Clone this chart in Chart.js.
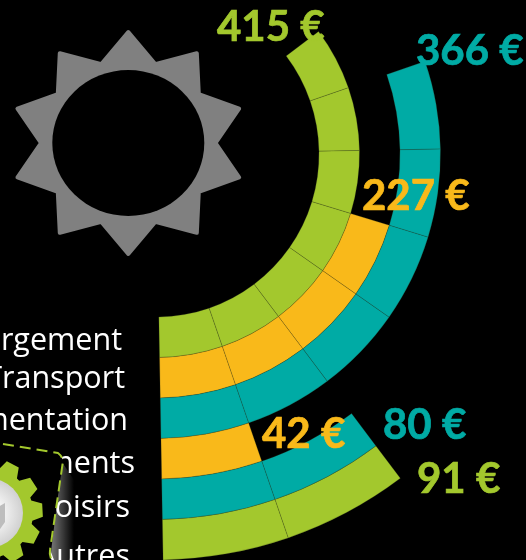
<!DOCTYPE html>
<html>
<head>
<meta charset="utf-8">
<style>
    html, body { margin: 0; width: 526px; height: 560px; background: #000; overflow: hidden; }
    #wrap { position: relative; width: 526px; height: 560px; overflow: hidden; }
    /* the rings run off the page, so the canvas is bigger than the window */
    #budgetChart { position: absolute; left: -294px; top: -296px; }
</style>
</head>
<body>
<div id="wrap"><canvas id="budgetChart" width="900" height="900"></canvas></div>
<script src="https://cdn.jsdelivr.net/npm/chart.js@4"></script>
<script>
// inner ring first
const categories = ['Hébergement', 'Transport', 'Alimentation', 'Vêtements', 'Loisirs', 'Autres'];
const amounts = [415, 227, 366, 42, 80, 91];
const units = [7, 4, 6, 1, 2, 2]; // blocks drawn per ring, a block is 1/20 of the circle
const totalUnits = 20;

const GREEN = '#a3c82d';
const ORANGE = '#f9b91a';
const TEAL = '#00aba5';
const ringColors = [GREEN, ORANGE, TEAL, ORANGE, TEAL, GREEN];

// page positions of the texts
const amountPos = [[217, 41], [362, 210], [416, 65], [262, 448], [383, 439], [417, 493]];
const categoryPos = [[122, 350], [125, 388], [128, 430], [135, 473], [130, 517], [130, 566]];

const OFFSET_X = 294, OFFSET_Y = 296;

function drawSun(ctx) {
    const cx = 128.3, cy = 143;
    ctx.beginPath();
    for (let i = 0; i < 20; i++) {
        const r = i % 2 === 0 ? 111 : 83;
        const a = -Math.PI / 2 + i * Math.PI / 10;
        ctx.lineTo(cx + 1.05 * r * Math.cos(a), cy + r * Math.sin(a));
    }
    ctx.closePath();
    ctx.fillStyle = '#808080';
    ctx.strokeStyle = '#808080';
    ctx.lineWidth = 4;
    ctx.lineJoin = 'round';
    ctx.fill();
    ctx.stroke();
    ctx.beginPath();
    ctx.ellipse(cx, cy, 76, 73, 0, 0, Math.PI * 2);
    ctx.fillStyle = '#000';
    ctx.fill();
}

function drawPanel(ctx) {
    // shadow on the right of the panel
    const shadow = ctx.createLinearGradient(52, 0, 74, 0);
    shadow.addColorStop(0, 'rgba(255,255,255,0.45)');
    shadow.addColorStop(1, 'rgba(255,255,255,0)');
    ctx.fillStyle = shadow;
    ctx.beginPath();
    ctx.moveTo(62, 462);
    ctx.lineTo(74, 480);
    ctx.lineTo(74, 560);
    ctx.lineTo(50, 560);
    ctx.closePath();
    ctx.fill();

    ctx.beginPath();
    ctx.moveTo(-5, 442);
    ctx.lineTo(58, 453);
    ctx.quadraticCurveTo(62, 456, 63, 461);
    ctx.lineTo(50, 550);
    ctx.quadraticCurveTo(49, 555, 52, 561);
    ctx.lineTo(-5, 561);
    ctx.closePath();
    ctx.fillStyle = '#000';
    ctx.fill();

    ctx.beginPath();
    ctx.moveTo(3, 444);
    ctx.lineTo(58, 453);
    ctx.quadraticCurveTo(62, 456, 63, 461);
    ctx.lineTo(50, 550);
    ctx.quadraticCurveTo(49, 555, 52, 561);
    ctx.strokeStyle = GREEN;
    ctx.lineWidth = 2;
    ctx.setLineDash([11, 6]);
    ctx.stroke();
    ctx.setLineDash([]);
}

function drawGear(ctx) {
    const cx = -12, cy = 513;
    ctx.beginPath();
    for (let i = 0; i < 12; i++) {
        const a = (i * 30 - 3) * Math.PI / 180;
        [[-13, 45], [-7, 55], [7, 55], [13, 45]].forEach(p => {
            const b = a + p[0] * Math.PI / 180;
            ctx.lineTo(cx + p[1] * Math.cos(b), cy + p[1] * Math.sin(b));
        });
    }
    ctx.closePath();
    ctx.fillStyle = GREEN;
    ctx.fill();

    const disc = ctx.createRadialGradient(cx, cy, 8, cx, cy, 35);
    disc.addColorStop(0, '#ffffff');
    disc.addColorStop(1, '#d0d0d0');
    ctx.beginPath();
    ctx.arc(cx, cy, 35, 0, Math.PI * 2);
    ctx.fillStyle = disc;
    ctx.fill();

    ctx.fillStyle = '#bdbdbd';
    ctx.beginPath();
    ctx.moveTo(-2, 507);
    ctx.lineTo(5, 503);
    ctx.lineTo(5, 522);
    ctx.lineTo(-2, 532);
    ctx.closePath();
    ctx.fill();
}

const decorations = {
    id: 'decorations',
    beforeDatasetsDraw(chart) {
        const ctx = chart.ctx;
        ctx.save();
        ctx.translate(OFFSET_X, OFFSET_Y);
        drawSun(ctx);
        ctx.textAlign = 'right';
        ctx.textBaseline = 'alphabetic';
        ctx.font = '30.5px "Open Sans"';
        ctx.fillStyle = '#fff';
        categories.forEach((name, i) => {
            ctx.fillText(name, categoryPos[i][0], categoryPos[i][1]);
        });
        drawPanel(ctx);
        drawGear(ctx);
        ctx.restore();
    },
    afterDatasetsDraw(chart) {
        const ctx = chart.ctx;
        ctx.save();
        ctx.translate(OFFSET_X, OFFSET_Y);
        ctx.textAlign = 'left';
        ctx.textBaseline = 'alphabetic';
        ctx.font = 'bold 42px Lato';
        ctx.lineWidth = 0.7;
        amounts.forEach((value, i) => {
            ctx.fillStyle = ringColors[i];
            ctx.strokeStyle = ringColors[i];
            ctx.fillText(value + ' €', amountPos[i][0], amountPos[i][1]);
            ctx.strokeText(value + ' €', amountPos[i][0], amountPos[i][1]);
        });
        ctx.restore();
    }
};

// outermost ring comes first in a doughnut, the gap goes first so the blocks end at the start line
const datasets = categories.map((name, i) => {
    const blocks = Array(units[i]).fill(1);
    return {
        label: name,
        data: [totalUnits - units[i], ...blocks],
        backgroundColor: ['rgba(0,0,0,0)', ...blocks.map(() => ringColors[i])],
        borderColor: 'rgba(50,60,30,0.4)',
        borderWidth: [0, ...blocks.map(() => 0.6)],
        borderAlign: 'center'
    };
}).reverse();

new Chart(document.getElementById('budgetChart'), {
    type: 'doughnut',
    data: { labels: [], datasets: datasets },
    plugins: [decorations],
    options: {
        responsive: false,
        animation: false,
        rotation: 179,
        radius: 406,
        cutout: '40.15%',
        events: [],
        plugins: {
            legend: { display: false },
            tooltip: { enabled: false }
        }
    }
});
</script>
</body>
</html>
